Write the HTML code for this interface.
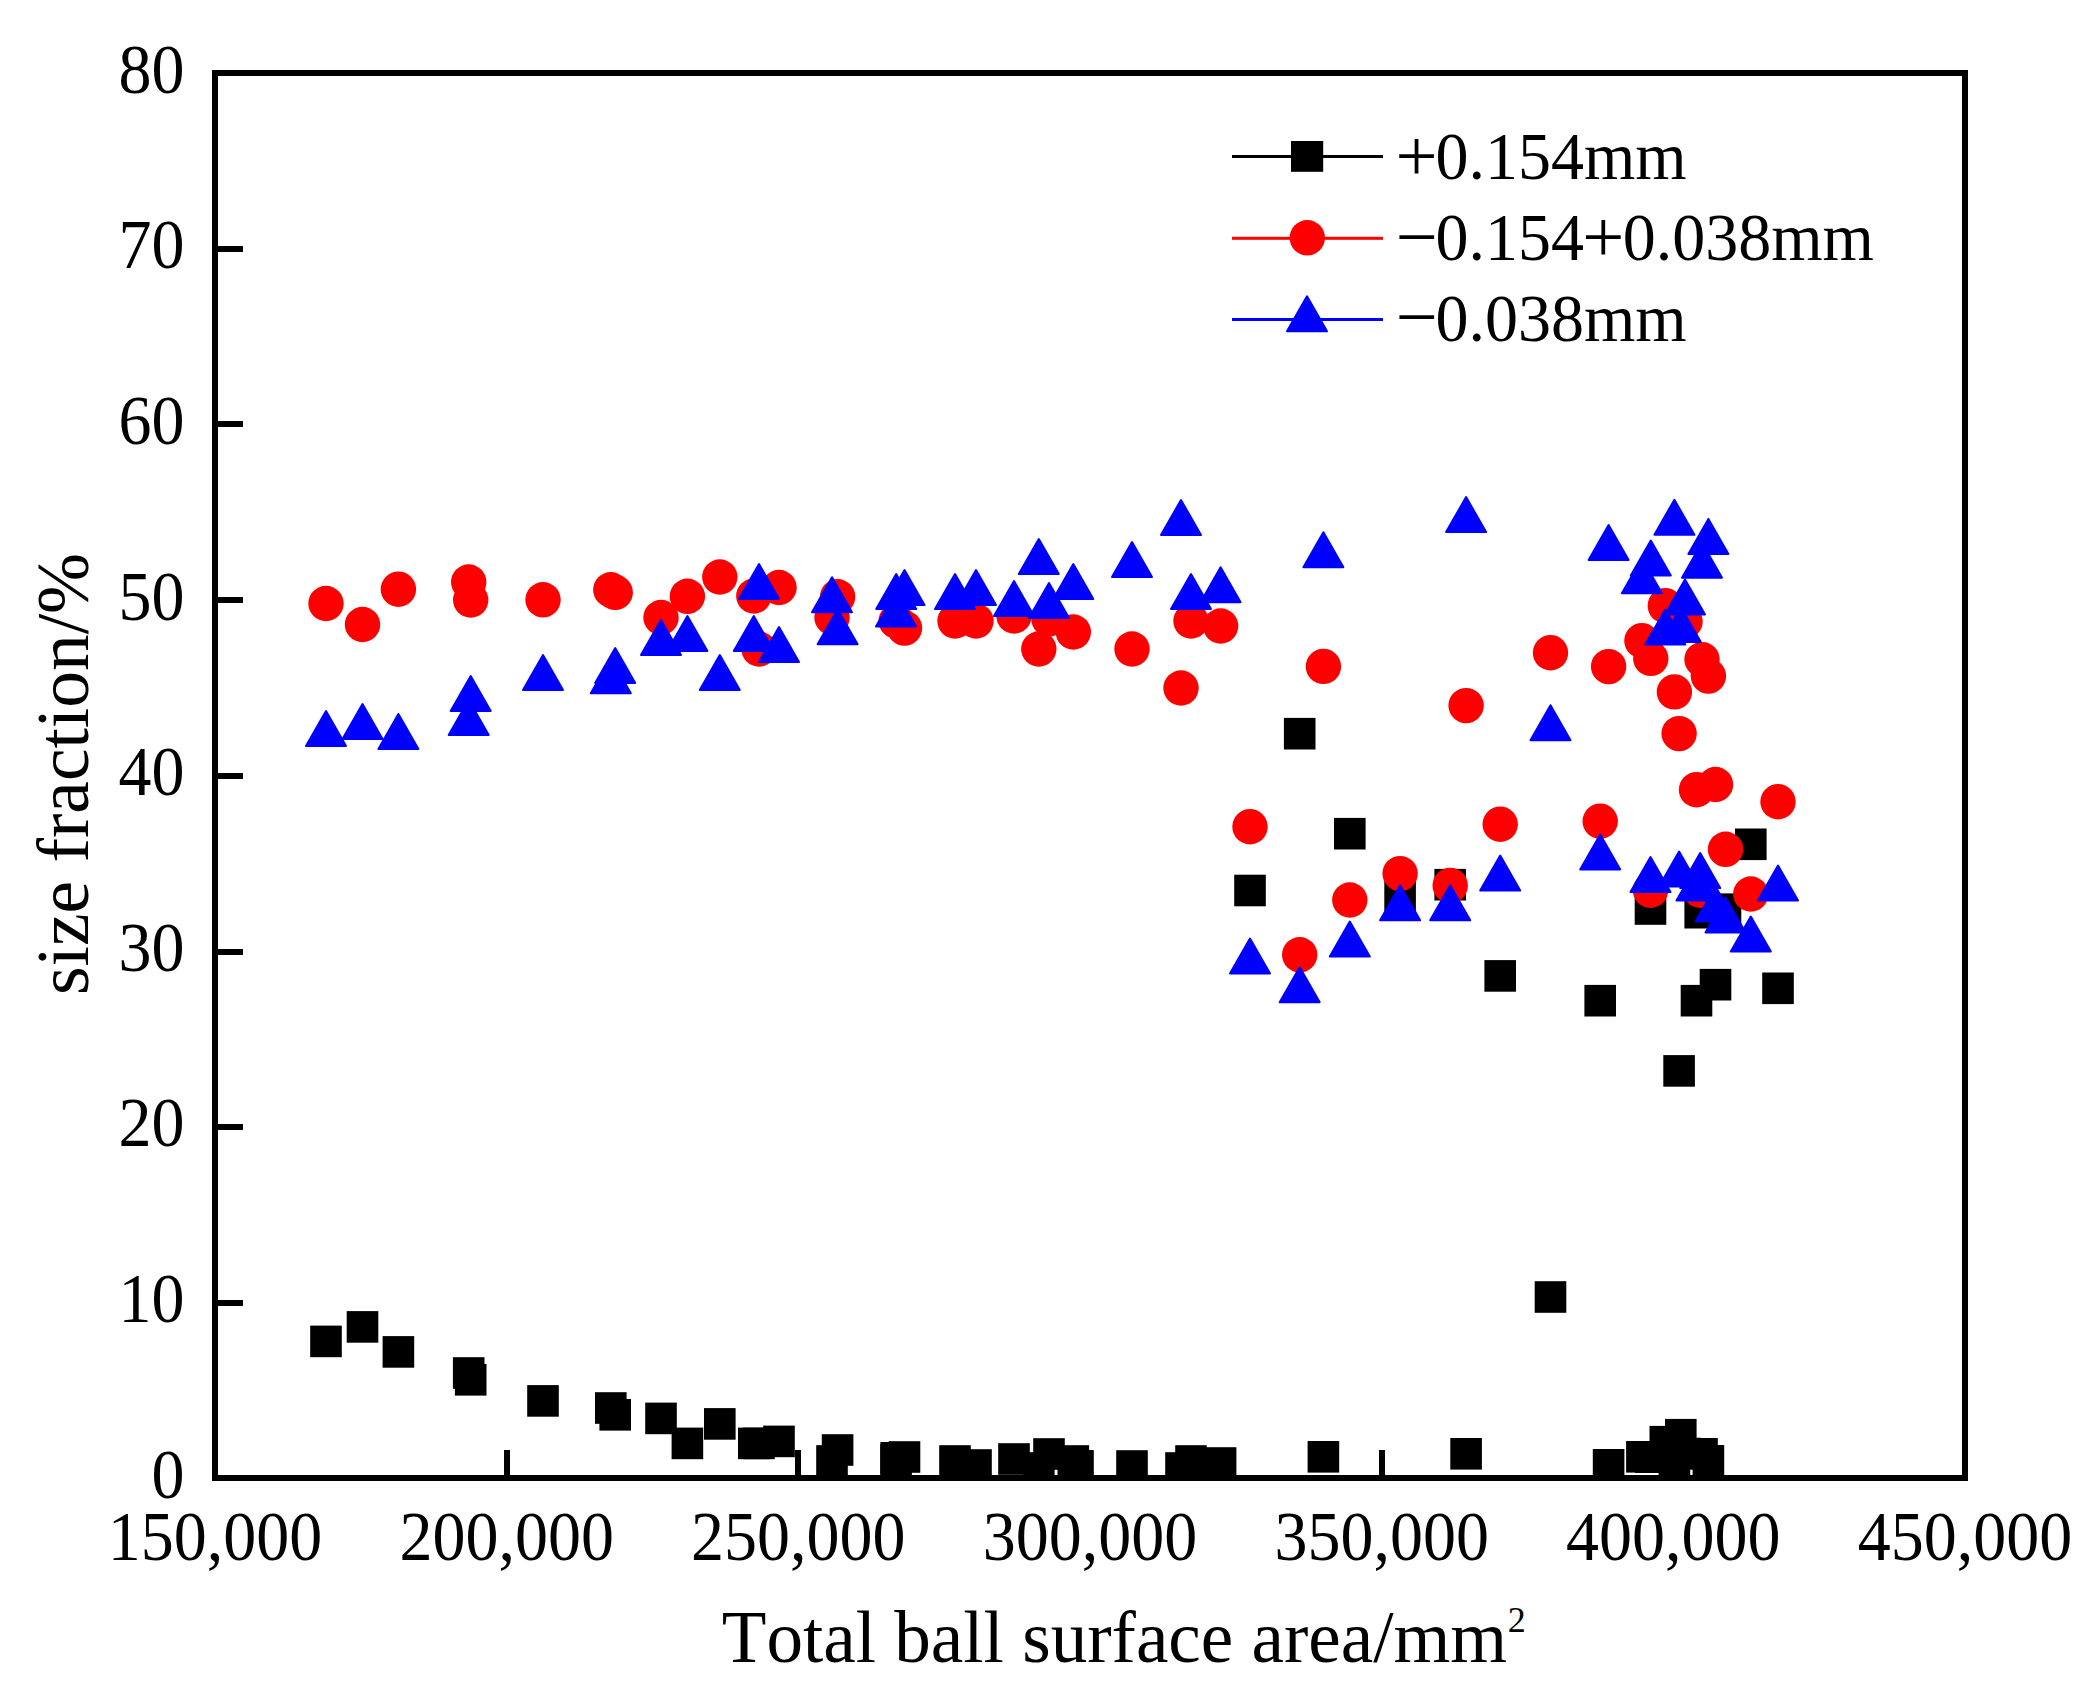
<!DOCTYPE html>
<html><head><meta charset="utf-8"><title>size fraction</title>
<style>
html,body{margin:0;padding:0;background:#fff;}
svg{display:block;}
text{font-family:"Liberation Serif","Times New Roman",serif;fill:#000;font-kerning:none;font-variant-ligatures:none;}
.t{font-size:66px;}
.a{font-size:73px;}
</style></head><body>
<svg width="2096" height="1695" viewBox="0 0 2096 1695">
<rect x="0" y="0" width="2096" height="1695" fill="#fff"/>

<g fill="#000" shape-rendering="crispEdges">
<rect x="212" y="70" width="1756" height="6"/>
<rect x="212" y="1475" width="1756" height="6"/>
<rect x="212" y="70" width="6" height="1411"/>
<rect x="1962" y="70" width="6" height="1411"/>
<rect x="218" y="1300" width="25" height="6"/>
<rect x="218" y="1124" width="25" height="6"/>
<rect x="218" y="949" width="25" height="6"/>
<rect x="218" y="773" width="25" height="6"/>
<rect x="218" y="597" width="25" height="6"/>
<rect x="218" y="421" width="25" height="6"/>
<rect x="218" y="246" width="25" height="6"/>
<rect x="504" y="1450" width="6" height="25"/>
<rect x="795" y="1450" width="6" height="25"/>
<rect x="1087" y="1450" width="6" height="25"/>
<rect x="1379" y="1450" width="6" height="25"/>
<rect x="1670" y="1450" width="6" height="25"/>
</g>
<g class="t" text-anchor="end">
<text transform="translate(184.6,1497.6) scale(1,1.045)">0</text>
<text transform="translate(184.6,1322.0) scale(1,1.045)">10</text>
<text transform="translate(184.6,1146.3) scale(1,1.045)">20</text>
<text transform="translate(184.6,970.7) scale(1,1.045)">30</text>
<text transform="translate(184.6,795.1) scale(1,1.045)">40</text>
<text transform="translate(184.6,619.5) scale(1,1.045)">50</text>
<text transform="translate(184.6,443.9) scale(1,1.045)">60</text>
<text transform="translate(184.6,268.2) scale(1,1.045)">70</text>
<text transform="translate(184.6,92.6) scale(1,1.045)">80</text>
</g>
<g class="t" text-anchor="middle">
<text transform="translate(215.0,1559.7) scale(1,1.045)">150,000</text>
<text transform="translate(506.7,1559.7) scale(1,1.045)">200,000</text>
<text transform="translate(798.3,1559.7) scale(1,1.045)">250,000</text>
<text transform="translate(1090.0,1559.7) scale(1,1.045)">300,000</text>
<text transform="translate(1381.7,1559.7) scale(1,1.045)">350,000</text>
<text transform="translate(1673.3,1559.7) scale(1,1.045)">400,000</text>
<text transform="translate(1965.0,1559.7) scale(1,1.045)">450,000</text>
</g>
<text class="a" style="font-size:73.1px" transform="translate(721.8,1662.3)">Total ball surface area/mm<tspan font-size="36" dy="-30.3" dx="0.5">2</tspan></text>
<text class="a" style="font-size:73.4px" transform="translate(88.4,995.0) rotate(-90)">size fraction/%</text>
<clipPath id="cp"><rect x="215" y="73" width="1750" height="1405"/></clipPath>
<g clip-path="url(#cp)">
<g fill="#000">
<rect x="310.2" y="1325.6" width="31.6" height="31.6"/>
<rect x="346.7" y="1311.1" width="31.6" height="31.6"/>
<rect x="382.6" y="1336.1" width="31.6" height="31.6"/>
<rect x="452.9" y="1357.2" width="31.6" height="31.6"/>
<rect x="454.9" y="1364.0" width="31.6" height="31.6"/>
<rect x="527.2" y="1385.1" width="31.6" height="31.6"/>
<rect x="595.0" y="1392.2" width="31.6" height="31.6"/>
<rect x="599.4" y="1399.0" width="31.6" height="31.6"/>
<rect x="645.2" y="1402.6" width="31.6" height="31.6"/>
<rect x="671.6" y="1427.6" width="31.6" height="31.6"/>
<rect x="704.0" y="1408.1" width="31.6" height="31.6"/>
<rect x="738.0" y="1427.6" width="31.6" height="31.6"/>
<rect x="743.2" y="1427.6" width="31.6" height="31.6"/>
<rect x="763.2" y="1425.6" width="31.6" height="31.6"/>
<rect x="816.2" y="1445.2" width="31.6" height="31.6"/>
<rect x="821.8" y="1434.2" width="31.6" height="31.6"/>
<rect x="880.4" y="1442.0" width="31.6" height="31.6"/>
<rect x="888.7" y="1441.2" width="31.6" height="31.6"/>
<rect x="880.2" y="1444.2" width="31.6" height="31.6"/>
<rect x="939.2" y="1445.2" width="31.6" height="31.6"/>
<rect x="960.2" y="1449.2" width="31.6" height="31.6"/>
<rect x="998.2" y="1443.2" width="31.6" height="31.6"/>
<rect x="1023.0" y="1452.2" width="31.6" height="31.6"/>
<rect x="1033.2" y="1438.2" width="31.6" height="31.6"/>
<rect x="1057.5" y="1445.2" width="31.6" height="31.6"/>
<rect x="1062.2" y="1450.2" width="31.6" height="31.6"/>
<rect x="1116.2" y="1450.2" width="31.6" height="31.6"/>
<rect x="1165.2" y="1452.2" width="31.6" height="31.6"/>
<rect x="1175.2" y="1445.2" width="31.6" height="31.6"/>
<rect x="1204.8" y="1447.2" width="31.6" height="31.6"/>
<rect x="1234.2" y="874.7" width="31.6" height="31.6"/>
<rect x="1283.9" y="717.9" width="31.6" height="31.6"/>
<rect x="1307.6" y="1441.0" width="31.6" height="31.6"/>
<rect x="1334.0" y="817.9" width="31.6" height="31.6"/>
<rect x="1384.3" y="879.7" width="31.6" height="31.6"/>
<rect x="1434.4" y="868.9" width="31.6" height="31.6"/>
<rect x="1450.3" y="1438.0" width="31.6" height="31.6"/>
<rect x="1484.4" y="960.1" width="31.6" height="31.6"/>
<rect x="1534.7" y="1281.2" width="31.6" height="31.6"/>
<rect x="1584.4" y="984.9" width="31.6" height="31.6"/>
<rect x="1592.8" y="1449.0" width="31.6" height="31.6"/>
<rect x="1626.1" y="1441.0" width="31.6" height="31.6"/>
<rect x="1635.0" y="1441.4" width="31.6" height="31.6"/>
<rect x="1649.5" y="1425.9" width="31.6" height="31.6"/>
<rect x="1658.6" y="1446.9" width="31.6" height="31.6"/>
<rect x="1665.0" y="1418.9" width="31.6" height="31.6"/>
<rect x="1669.2" y="1437.7" width="31.6" height="31.6"/>
<rect x="1686.2" y="1438.0" width="31.6" height="31.6"/>
<rect x="1692.6" y="1445.0" width="31.6" height="31.6"/>
<rect x="1634.7" y="893.2" width="31.6" height="31.6"/>
<rect x="1663.3" y="1055.1" width="31.6" height="31.6"/>
<rect x="1680.7" y="984.9" width="31.6" height="31.6"/>
<rect x="1684.4" y="896.9" width="31.6" height="31.6"/>
<rect x="1699.7" y="968.9" width="31.6" height="31.6"/>
<rect x="1709.7" y="893.4" width="31.6" height="31.6"/>
<rect x="1735.0" y="828.5" width="31.6" height="31.6"/>
<rect x="1762.2" y="972.5" width="31.6" height="31.6"/>
</g><g fill="#f00">
<circle cx="326.0" cy="603.5" r="17.7"/>
<circle cx="362.5" cy="624.5" r="17.7"/>
<circle cx="398.4" cy="589.2" r="17.7"/>
<circle cx="468.7" cy="582.0" r="17.7"/>
<circle cx="470.7" cy="600.0" r="17.7"/>
<circle cx="543.0" cy="599.8" r="17.7"/>
<circle cx="610.8" cy="589.8" r="17.7"/>
<circle cx="615.2" cy="592.4" r="17.7"/>
<circle cx="661.0" cy="617.5" r="17.7"/>
<circle cx="687.4" cy="596.3" r="17.7"/>
<circle cx="719.8" cy="577.0" r="17.7"/>
<circle cx="753.8" cy="596.0" r="17.7"/>
<circle cx="759.0" cy="649.0" r="17.7"/>
<circle cx="779.0" cy="587.5" r="17.7"/>
<circle cx="832.0" cy="617.5" r="17.7"/>
<circle cx="837.6" cy="596.8" r="17.7"/>
<circle cx="896.2" cy="621.0" r="17.7"/>
<circle cx="904.5" cy="628.1" r="17.7"/>
<circle cx="955.0" cy="621.0" r="17.7"/>
<circle cx="976.0" cy="621.0" r="17.7"/>
<circle cx="1014.0" cy="616.0" r="17.7"/>
<circle cx="1038.8" cy="649.0" r="17.7"/>
<circle cx="1049.0" cy="619.0" r="17.7"/>
<circle cx="1073.3" cy="632.0" r="17.7"/>
<circle cx="1132.0" cy="649.0" r="17.7"/>
<circle cx="1181.0" cy="688.0" r="17.7"/>
<circle cx="1191.0" cy="621.0" r="17.7"/>
<circle cx="1220.6" cy="626.0" r="17.7"/>
<circle cx="1250.0" cy="826.7" r="17.7"/>
<circle cx="1299.7" cy="954.8" r="17.7"/>
<circle cx="1323.4" cy="666.4" r="17.7"/>
<circle cx="1349.8" cy="900.0" r="17.7"/>
<circle cx="1400.1" cy="873.6" r="17.7"/>
<circle cx="1450.2" cy="885.4" r="17.7"/>
<circle cx="1466.1" cy="705.6" r="17.7"/>
<circle cx="1500.2" cy="824.2" r="17.7"/>
<circle cx="1550.5" cy="652.7" r="17.7"/>
<circle cx="1600.2" cy="821.2" r="17.7"/>
<circle cx="1608.6" cy="666.6" r="17.7"/>
<circle cx="1641.9" cy="640.7" r="17.7"/>
<circle cx="1650.8" cy="658.4" r="17.7"/>
<circle cx="1665.3" cy="605.7" r="17.7"/>
<circle cx="1674.4" cy="691.9" r="17.7"/>
<circle cx="1680.8" cy="613.0" r="17.7"/>
<circle cx="1685.0" cy="621.6" r="17.7"/>
<circle cx="1702.0" cy="659.6" r="17.7"/>
<circle cx="1708.4" cy="676.1" r="17.7"/>
<circle cx="1650.5" cy="890.2" r="17.7"/>
<circle cx="1679.1" cy="733.6" r="17.7"/>
<circle cx="1696.5" cy="789.7" r="17.7"/>
<circle cx="1700.2" cy="890.2" r="17.7"/>
<circle cx="1715.5" cy="784.5" r="17.7"/>
<circle cx="1725.5" cy="849.3" r="17.7"/>
<circle cx="1750.8" cy="894.0" r="17.7"/>
<circle cx="1778.0" cy="801.7" r="17.7"/>
</g><g fill="#00f" stroke="#00f" stroke-width="2" stroke-linejoin="round">
<polygon points="326.0,711.0 346.0,746.0 306.0,746.0"/>
<polygon points="362.5,704.0 382.5,739.0 342.5,739.0"/>
<polygon points="398.4,714.0 418.4,749.0 378.4,749.0"/>
<polygon points="468.7,700.0 488.7,735.0 448.7,735.0"/>
<polygon points="470.7,676.0 490.7,711.0 450.7,711.0"/>
<polygon points="543.0,655.0 563.0,690.0 523.0,690.0"/>
<polygon points="610.8,658.3 630.8,693.3 590.8,693.3"/>
<polygon points="615.2,648.0 635.2,683.0 595.2,683.0"/>
<polygon points="661.0,620.0 681.0,655.0 641.0,655.0"/>
<polygon points="687.4,616.0 707.4,651.0 667.4,651.0"/>
<polygon points="719.8,655.0 739.8,690.0 699.8,690.0"/>
<polygon points="753.8,616.1 773.8,651.1 733.8,651.1"/>
<polygon points="759.0,564.0 779.0,599.0 739.0,599.0"/>
<polygon points="779.0,627.0 799.0,662.0 759.0,662.0"/>
<polygon points="832.0,577.2 852.0,612.2 812.0,612.2"/>
<polygon points="837.6,609.3 857.6,644.3 817.6,644.3"/>
<polygon points="896.2,574.1 916.2,609.1 876.2,609.1"/>
<polygon points="904.5,570.1 924.5,605.1 884.5,605.1"/>
<polygon points="896.0,591.5 916.0,626.5 876.0,626.5"/>
<polygon points="955.0,574.0 975.0,609.0 935.0,609.0"/>
<polygon points="976.0,570.0 996.0,605.0 956.0,605.0"/>
<polygon points="1014.0,581.0 1034.0,616.0 994.0,616.0"/>
<polygon points="1038.8,539.0 1058.8,574.0 1018.8,574.0"/>
<polygon points="1049.0,583.0 1069.0,618.0 1029.0,618.0"/>
<polygon points="1073.3,564.0 1093.3,599.0 1053.3,599.0"/>
<polygon points="1132.0,542.0 1152.0,577.0 1112.0,577.0"/>
<polygon points="1181.0,500.0 1201.0,535.0 1161.0,535.0"/>
<polygon points="1191.0,574.0 1211.0,609.0 1171.0,609.0"/>
<polygon points="1220.6,567.2 1240.6,602.2 1200.6,602.2"/>
<polygon points="1250.0,938.5 1270.0,973.5 1230.0,973.5"/>
<polygon points="1299.7,967.2 1319.7,1002.2 1279.7,1002.2"/>
<polygon points="1323.4,532.2 1343.4,567.2 1303.4,567.2"/>
<polygon points="1349.8,921.6 1369.8,956.6 1329.8,956.6"/>
<polygon points="1400.1,885.3 1420.1,920.3 1380.1,920.3"/>
<polygon points="1450.2,885.3 1470.2,920.3 1430.2,920.3"/>
<polygon points="1466.1,497.1 1486.1,532.1 1446.1,532.1"/>
<polygon points="1500.2,855.6 1520.2,890.6 1480.2,890.6"/>
<polygon points="1550.5,705.2 1570.5,740.2 1530.5,740.2"/>
<polygon points="1600.2,834.4 1620.2,869.4 1580.2,869.4"/>
<polygon points="1608.6,525.1 1628.6,560.1 1588.6,560.1"/>
<polygon points="1641.9,558.3 1661.9,593.3 1621.9,593.3"/>
<polygon points="1650.8,540.5 1670.8,575.5 1630.8,575.5"/>
<polygon points="1665.3,609.6 1685.3,644.6 1645.3,644.6"/>
<polygon points="1674.4,499.8 1694.4,534.8 1654.4,534.8"/>
<polygon points="1680.8,607.0 1700.8,642.0 1660.8,642.0"/>
<polygon points="1685.0,579.4 1705.0,614.4 1665.0,614.4"/>
<polygon points="1702.0,542.7 1722.0,577.7 1682.0,577.7"/>
<polygon points="1708.4,518.9 1728.4,553.9 1688.4,553.9"/>
<polygon points="1650.5,857.1 1670.5,892.1 1630.5,892.1"/>
<polygon points="1679.1,851.5 1699.1,886.5 1659.1,886.5"/>
<polygon points="1696.5,865.4 1716.5,900.4 1676.5,900.4"/>
<polygon points="1700.2,853.1 1720.2,888.1 1680.2,888.1"/>
<polygon points="1715.5,886.5 1735.5,921.5 1695.5,921.5"/>
<polygon points="1725.5,897.5 1745.5,932.5 1705.5,932.5"/>
<polygon points="1750.8,916.6 1770.8,951.6 1730.8,951.6"/>
<polygon points="1778.0,865.5 1798.0,900.5 1758.0,900.5"/>
</g></g>
<rect x="1232" y="155.0" width="151" height="3" fill="#000"/>
<rect x="1291.0" y="141.0" width="32.2" height="30.8" fill="#000"/>
<rect x="1232" y="236.8" width="151" height="3" fill="#f00"/>
<circle cx="1307.3" cy="237.8" r="17.7" fill="#f00"/>
<rect x="1232" y="318.0" width="151" height="3" fill="#00f"/>
<g fill="#00f" stroke="#00f" stroke-width="2" stroke-linejoin="round"><polygon points="1307.0,296.3 1327.0,331.3 1287.0,331.3"/></g>
<text x="1395.4" y="180.6" style="font-size:74.6px">+</text><text class="t" transform="translate(1435.5,179.1) scale(1,1.03)">0.154mm</text>
<text x="1395.4" y="261.7" style="font-size:74.6px">−</text><text class="t" transform="translate(1435.5,260.2) scale(1,1.03)">0.154</text><text x="1582.3" y="261.7" style="font-size:74.6px">+</text><text class="t" transform="translate(1622.7,260.2) scale(1,1.03)">0.038mm</text>
<text x="1395.4" y="342.4" style="font-size:74.6px">−</text><text class="t" transform="translate(1435.5,340.9) scale(1,1.03)">0.038mm</text>
</svg></body></html>
